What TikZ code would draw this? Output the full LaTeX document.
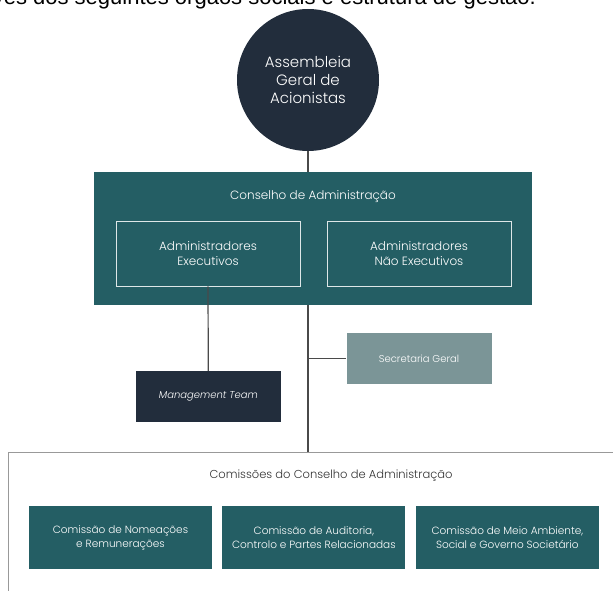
\documentclass[tikz,border=0pt]{standalone}
\usepackage{fontspec}
\setmainfont{Poppins}[UprightFont=* Light, ItalicFont=* Light Italic]
\newfontfamily\introfont{Liberation Sans}
\usepackage{tikz}
\usetikzlibrary{positioning}
\definecolor{boardteal}{HTML}{245E64}
\definecolor{boardnavy}{HTML}{222D3C}
\definecolor{secgrey}{HTML}{7B9597}
\definecolor{linkgrey}{HTML}{4A4A4A}
\tikzstyle{organ} = [rectangle, inner sep=0pt, text=white, align=center]
\tikzstyle{member} = [organ, draw=white!85!boardteal, line width=0.9pt, minimum width=184pt, minimum height=65pt]
\tikzstyle{unit} = [organ, minimum width=145pt, minimum height=51pt, font=\fontsize{10}{12}\selectfont]
\tikzstyle{committee} = [organ, fill=boardteal, minimum width=183pt, minimum height=63pt, font=\fontsize{10.5}{14}\selectfont]
\tikzstyle{link} = [draw=linkgrey, line width=1.2pt]

\begin{document}
\begin{tikzpicture}[x=1pt, y=-1pt, font=\fontsize{12}{15.5}\selectfont]
	\useasboundingbox (0,0) rectangle (613,591);
	\clip (0,0) rectangle (613,591);
	\node (Intro) [anchor=base east, inner sep=0pt, font=\introfont\fontsize{22}{24}\selectfont] at (536,4.5) {através dos seguintes órgãos sociais e estrutura de gestão.};
	\node (Assembleia) [circle, fill=boardnavy, minimum size=142pt, text=white, align=center, font=\fontsize{15}{18}\selectfont] at (308,80) {Assembleia\\Geral de\\Acionistas};
	\node (Conselho) [organ, fill=boardteal, minimum width=438pt, minimum height=133pt] at (313,238.5) {};
	\node (ConselhoTitle) [organ] at (313,197) {Conselho de Administração};
	\node (Executivos) [member] at (208,253.5) {Administradores\\Executivos};
	\node (NaoExecutivos) [member] at (419,253.5) {Administradores\\Não Executivos};
	\node (Management) [unit, fill=boardnavy] at (208.3,396.5) {\itshape Management Team};
	\node (Secretaria) [unit, fill=secgrey] at (419,358.5) {Secretaria Geral};
	\node (Comissoes) [rectangle, draw=gray!80, line width=0.9pt, anchor=north west, minimum width=700pt, minimum height=200pt] at (8,452) {};
	\node (ComissoesTitle) [font=\fontsize{11.5}{14}\selectfont, text=black!80] at (331,476) {Comissões do Conselho de Administração};
	\node (Nomeacoes) [committee] at (120.5,537.5) {Comissão de Nomeações\\e Remunerações};
	\node (Auditoria) [committee, right = 10pt of Nomeacoes] {Comissão de Auditoria,\\Controlo e Partes Relacionadas};
	\node (Ambiente) [committee, right = 10pt of Auditoria] {Comissão de Meio Ambiente,\\Social e Governo Societário};
	\draw [link] (Assembleia.south) -- (Assembleia.south |- Conselho.north);
	\draw [link] (Executivos.south) -- (Management.north);
	\draw [link] (Assembleia.south |- Conselho.south) -- (Assembleia.south |- Comissoes.north);
	\draw [link] (Assembleia.south |- Secretaria.west) -- (Secretaria.west);
\end{tikzpicture}
\end{document}
